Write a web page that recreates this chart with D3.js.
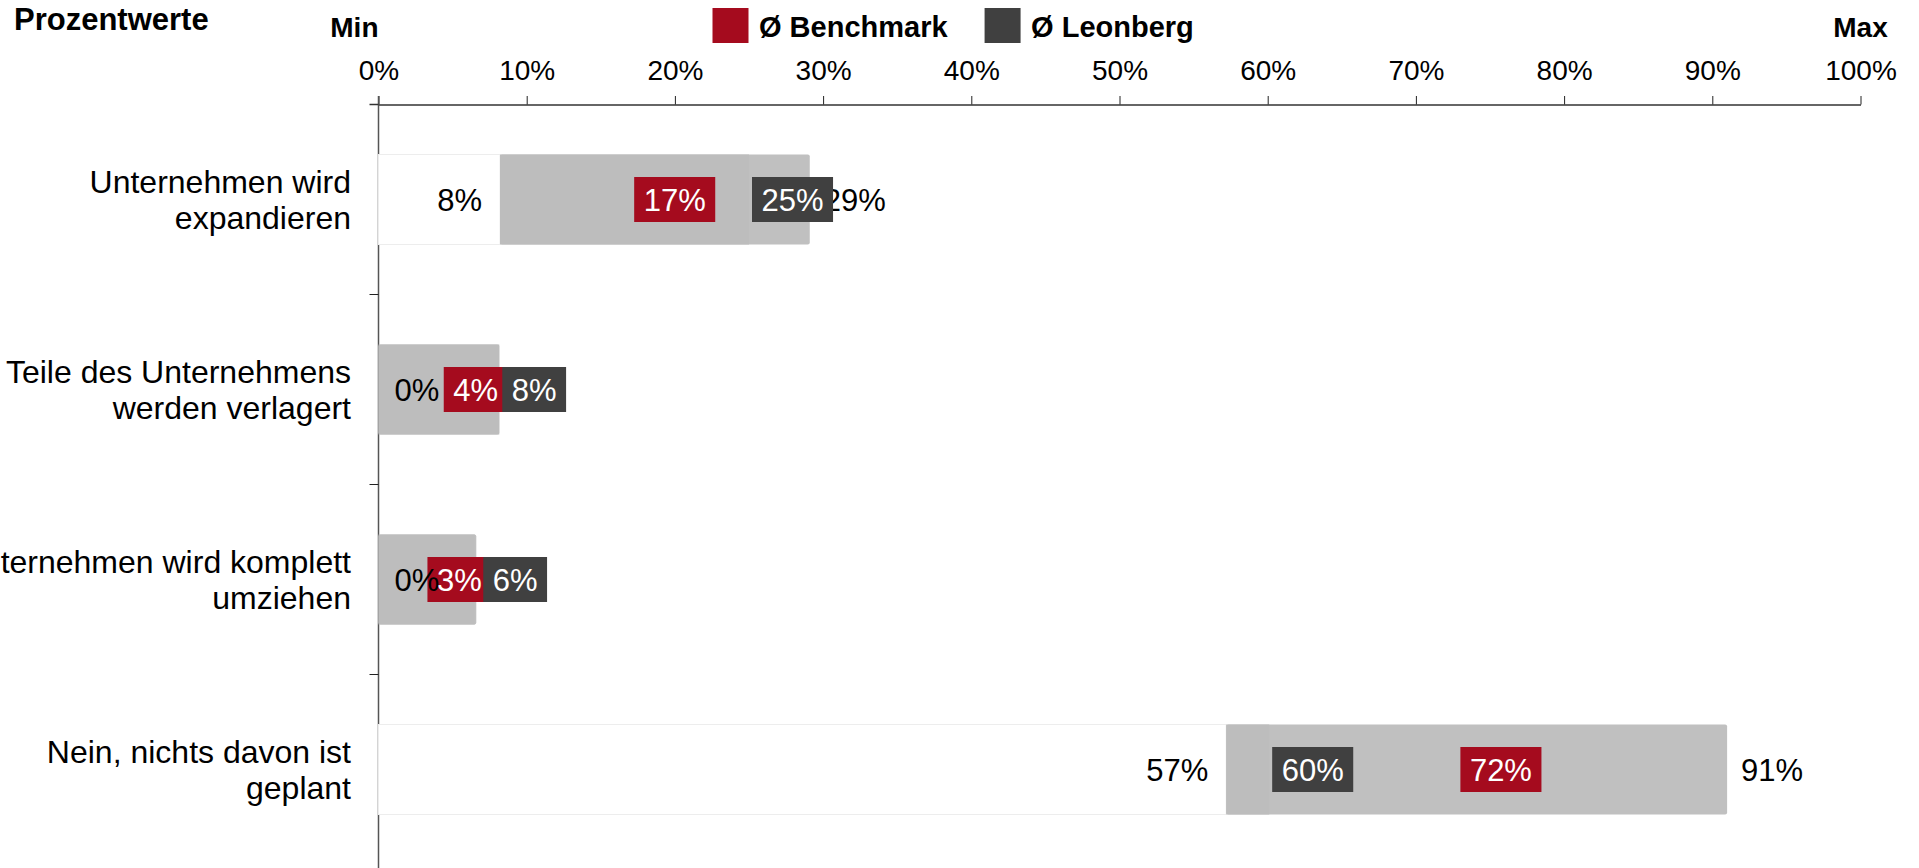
<!DOCTYPE html>
<html><head><meta charset="utf-8">
<script src="https://cdn.jsdelivr.net/npm/d3@7"></script>
<style>
html,body{margin:0;padding:0;background:#fff;overflow:hidden}
svg{display:block;font-family:"Liberation Sans",Arial,Helvetica,sans-serif}
</style></head><body>
<svg id="chart" width="1919" height="868"></svg>
<script>
// ---- data ----
const categories = [
  ["Unternehmen wird", "expandieren"],
  ["Teile des Unternehmens", "werden verlagert"],
  ["Unternehmen wird komplett", "umziehen"],
  ["Nein, nichts davon ist", "geplant"]
];
const minValues       = [8.2, 0, 0, 57.2];
const maxValues       = [29.1, 8.15, 6.6, 91.0];
const benchmarkValues = [17.05, 4.2, 3.1, 72.8];
const leonbergValues  = [25.0, 8.15, 6.5, 60.1];
const xTicks = [0, 10, 20, 30, 40, 50, 60, 70, 80, 90, 100];
const seriesNames = ["Ø Benchmark", "Ø Leonberg"];
const titleText = "Prozentwerte";
const minText = "Min", maxText = "Max";

// ---- styles ----
const RED = "#a50b1e", DARK = "#404040", GREY1 = "#bdbdbd", GREY2 = "#c0c0c0";
const pct = v => Math.floor(v + 1e-9) + "%";

const svg = d3.select("#chart");
svg.append("rect").attr("width", 1919).attr("height", 868).attr("fill", "#fff");

const x = d3.scaleLinear().domain([0, 100]).range([378.5, 1860.5]);
const y = d3.scaleBand().domain(d3.range(categories.length)).range([104.5, 864.5]);
const barH = 90, boxH = 45;

// ---- title, min/max, legend ----
svg.append("text").attr("x", 14).attr("y", 30).attr("font-size", 31).attr("font-weight", "bold")
  .text(titleText);
svg.append("text").attr("x", x(0)).attr("y", 37).attr("font-size", 28).attr("font-weight", "bold")
  .attr("text-anchor", "end").text(minText);
svg.append("text").attr("x", x(100)).attr("y", 37).attr("font-size", 28).attr("font-weight", "bold")
  .attr("text-anchor", "middle").text(maxText);

const legendColors = [RED, DARK];
let lx = 712.5;
seriesNames.forEach((name, i) => {
  svg.append("rect").attr("x", lx).attr("y", 8).attr("width", 36).attr("height", 35)
    .attr("fill", legendColors[i]);
  const t = svg.append("text").attr("x", lx + 46.5).attr("y", 37).attr("font-size", 29)
    .attr("font-weight", "bold").text(name);
  lx = lx + 46.5 + t.node().getComputedTextLength() + 37;
});

// ---- x axis ----
const gx = svg.append("g").attr("transform", `translate(0,${y.range()[0]})`)
  .call(d3.axisTop(x).tickValues(xTicks).tickSize(8.5).tickSizeOuter(0).tickFormat(d => d + "%"));
gx.select(".domain").attr("stroke", "#333").attr("stroke-width", 1.5);
gx.selectAll(".tick line").attr("stroke", "#222").attr("stroke-width", 1);
gx.selectAll(".tick text").attr("y", -24.5).attr("dy", 0).attr("font-size", 28)
  .attr("fill", "#000").attr("font-family", null);

// ---- y axis ----
const gy = svg.append("g").attr("transform", `translate(${x(0)},0)`)
  .call(d3.axisLeft(y).tickSize(0).tickSizeOuter(0).tickFormat(""));
gy.select(".domain").remove();
gy.append("line").attr("x1", 0).attr("x2", 0).attr("y1", y.range()[0] - 8.5).attr("y2", 868)
  .attr("stroke", "#555").attr("stroke-width", 1.5);
gy.append("line").attr("x1", -9).attr("x2", 0).attr("y1", y.range()[0]).attr("y2", y.range()[0])
  .attr("stroke", "#333").attr("stroke-width", 1.5);
// boundary ticks between bands
gy.selectAll("line.sep").data(d3.range(1, categories.length)).enter().append("line")
  .attr("class", "sep").attr("x1", -9).attr("x2", 0)
  .attr("y1", d => y(d)).attr("y2", d => y(d)).attr("stroke", "#222").attr("stroke-width", 1);

// category labels
gy.selectAll(".tick").each(function(d) {
  const t = d3.select(this).select("text");
  t.text(null).attr("x", -27.5).attr("dy", null).attr("y", null)
    .attr("font-size", 32).attr("fill", "#000").attr("text-anchor", "end").attr("font-family", null);
  const lines = categories[d];
  lines.forEach((ln, k) => {
    t.append("tspan").attr("x", -27.5).attr("y", -6.8 + k * 36).text(ln);
  });
});

// ---- bars ----
const rows = d3.range(categories.length).map(i => ({
  i, min: minValues[i], max: maxValues[i], bench: benchmarkValues[i], leon: leonbergValues[i],
  c: y(i) + y.bandwidth() / 2
}));
const plot = svg.append("g");

rows.forEach(r => {
  if (r.min > 0) {
    plot.append("rect").attr("x", x(0)).attr("y", r.c - barH / 2)
      .attr("width", x(r.min) - x(0)).attr("height", barH)
      .attr("fill", "#fff").attr("stroke", "#ededed").attr("stroke-width", 1);
  }
  const mid = Math.min(Math.max(r.leon, r.min), r.max);
  plot.append("rect").attr("x", x(r.min)).attr("y", r.c - barH / 2).attr("rx", 2)
    .attr("width", x(r.max) - x(r.min)).attr("height", barH).attr("fill", GREY2);
  plot.append("rect").attr("x", x(r.min)).attr("y", r.c - barH / 2)
    .attr("width", x(mid) - x(r.min)).attr("height", barH).attr("fill", GREY1);
});

// max labels
const maxLabels = plot.append("g");
rows.forEach(r => {
  maxLabels.append("text").attr("x", x(r.max) + 14).attr("y", r.c + 11)
    .attr("font-size", 31).attr("fill", "#000").text(pct(r.max));
});

// value boxes
const boxLayer = plot.append("g");
rows.forEach(r => {
  const items = [
    { v: r.bench, color: RED },
    { v: r.leon, color: DARK }
  ];
  items.forEach(it => {
    const g = boxLayer.append("g");
    const rect = g.append("rect");
    const t = g.append("text").attr("font-size", 31).attr("fill", "#fff")
      .attr("text-anchor", "middle").attr("y", r.c + 11).text(pct(it.v));
    it.g = g; it.rect = rect; it.t = t;
    it.w = t.node().getComputedTextLength() + 19;
    it.left = x(it.v) + 3;
  });
  const sorted = items.slice().sort((a, b) => a.left - b.left);
  for (let k = 1; k < sorted.length; k++) {
    const p = sorted[k - 1];
    sorted[k].left = Math.max(sorted[k].left, p.left + p.w - 8);
  }
  items.forEach(it => {
    it.rect.attr("x", it.left).attr("y", r.c - boxH / 2).attr("width", it.w)
      .attr("height", boxH).attr("fill", it.color);
    it.t.attr("x", it.left + it.w / 2);
  });
});

// min labels
const minLabels = plot.append("g");
rows.forEach(r => {
  const t = minLabels.append("text").attr("y", r.c + 11).attr("font-size", 31)
    .attr("fill", "#000").text(pct(r.min));
  const w = t.node().getComputedTextLength();
  if (x(r.min) - 18 - w < x(0)) {
    t.attr("x", x(r.min) + 16).attr("text-anchor", "start");
  } else {
    t.attr("x", x(r.min) - 18).attr("text-anchor", "end");
  }
});
</script>
</body></html>
